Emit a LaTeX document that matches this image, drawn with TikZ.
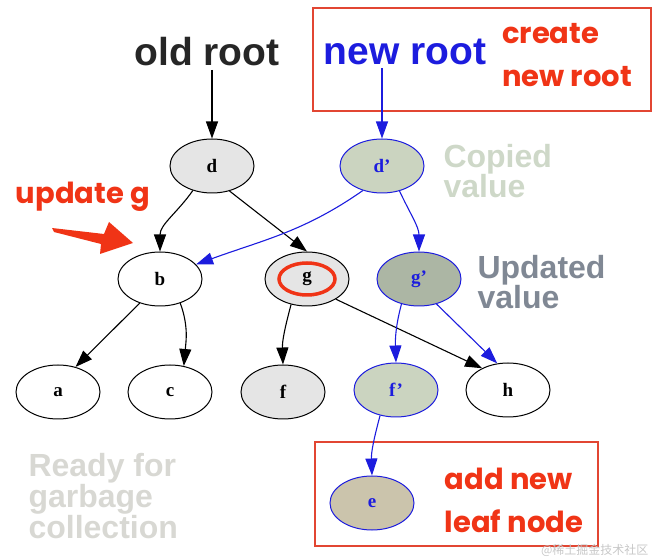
\documentclass[tikz,border=0pt]{standalone}
\usepackage{fontspec}
\setmainfont{Liberation Serif}
\setsansfont{Liberation Sans}
\newfontfamily\comicfont{Poppins}
\newfontfamily\cjkfont{Noto Sans CJK SC}
\usepackage{xcolor}
\usetikzlibrary{shapes.geometric, arrows.meta, positioning, calc}

\definecolor{newblue}{RGB}{28,28,222}
\definecolor{notered}{RGB}{240,52,22}
\definecolor{boxred}{RGB}{226,70,50}
\definecolor{oldfill}{RGB}{229,229,229}
\definecolor{copyfill}{RGB}{203,212,192}
\definecolor{updfill}{RGB}{172,182,164}
\definecolor{leaffill}{RGB}{203,196,172}
\definecolor{copytxt}{RGB}{206,216,200}
\definecolor{updtxt}{RGB}{128,136,148}
\definecolor{gctxt}{RGB}{216,216,211}

\begin{document}
\begin{tikzpicture}[x=1pt, y=1pt,
  tnode/.style={ellipse, draw, line width=1pt, minimum width=84pt,
                minimum height=54pt, inner sep=0pt,
                font=\fontsize{19}{19}\selectfont\bfseries},
  oldn/.style={tnode, fill=oldfill},
  plainn/.style={tnode, fill=white},
  newn/.style={tnode, draw=newblue, text=newblue, fill=copyfill},
  title/.style={font=\fontsize{39}{39}\selectfont\sffamily\bfseries},
  note/.style={text=notered, align=left,
               font=\fontsize{29}{43}\selectfont\comicfont\bfseries},
  hint/.style={align=left, anchor=west,
               font=\fontsize{32}{27}\selectfont\sffamily\bfseries},
  redbox/.style={draw=boxred, line width=1.2pt},
  arr/.style={-{Triangle[length=17pt, width=12pt]}, line width=1.1pt},
  barr/.style={arr, draw=newblue}
]
\useasboundingbox (0,0) rectangle (656,557);

%% ---- Titles ----
\node[title, text=black!85] (oldroot) at (207,505) {old root};
\node[title, text=newblue] (newroot) at (405,505) {new root};

\draw[redbox] (313,549) rectangle (651,446);
\node[note] (create) at (567,502) {create\\new root};

%% ---- Old tree ----
\node[oldn]   (d) at (212,391) {d};
\node[plainn] (b) at (160,278) {b};
\node[oldn]   (g) at (307,278) {g};
\node[plainn] (a) at (58,165)  {a};
\node[plainn] (c) at (170,165) {c};
\node[oldn]   (f) at (283,165) {f};
\node[plainn] (h) at (508,167) {h};

\draw[notered, line width=3.5pt] (g) ellipse (28pt and 16pt);

%% ---- New path ----
\node[newn] (dp) at (382,391) {d'};
\node[newn, fill=updfill]  (gp) at (419,278) {g'};
\node[newn]                (fp) at (396,167) {f'};
\node[newn, fill=leaffill] (e)  at (372,54)  {e};

\draw[redbox] (315,115) rectangle (598,11);
\node[note] (addleaf) at (514,57) {add new\\leaf node};

%% ---- Side notes ----
\node[hint, text=copytxt] (copied) at (440,386) {Copied\\value};
\node[hint, text=updtxt]  (updated) at (474,275) {Updated\\value};
\node[hint, text=gctxt]   (gc) at (25,61) {Ready for\\garbage\\collection};
\node[note] (upd) at (83,360) {update g};

\fill[notered] (52,329) -- (104,323) -- (109,335) -- (133,314)
  -- (100,303) -- (101,313) -- (54,325) -- cycle;

%% ---- Arrows: old tree ----
\draw[arr] (oldroot.south -| d.north) -- (d.north);
\draw[arr] (d.232) to[out=235,in=90] (b.north);
\draw[arr] (d.305) -- (g.north);
\draw[arr] (b.230) -- (a.55);
\draw[arr] (b.310) to[out=290,in=85] (c.62);
\draw[arr] (g.238) to[out=255,in=92] (f.north);
\draw[arr] (g.325) -- (h.140);

%% ---- Arrows: new path ----
\draw[barr] (newroot.south -| dp.north) -- (dp.north);
\draw[barr] (dp.232) to[out=215,in=20] (b.22);
\draw[barr] (dp.305) to[out=295,in=90] (gp.north);
\draw[barr] (gp.235) to[out=255,in=92] (fp.north);
\draw[barr] (gp.305) -- (h.112);
\draw[barr] (fp.238) to[out=255,in=92] (e.north);

\node[text=black!22, font=\fontsize{12}{12}\selectfont\cjkfont, anchor=east]
  (mark) at (652,7) {@稀土掘金技术社区};
\end{tikzpicture}
\end{document}
